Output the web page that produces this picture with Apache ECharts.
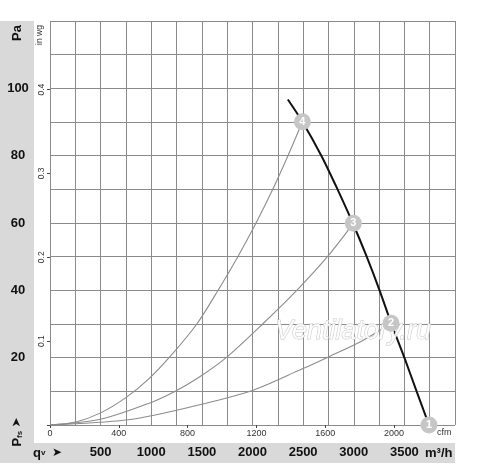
<!DOCTYPE html>
<html>
<head>
<meta charset="utf-8">
<script src="https://cdn.jsdelivr.net/npm/echarts@6/dist/echarts.min.js"></script>
<style>html,body{margin:0;padding:0;background:#fff}#c{width:500px;height:465px}</style>
</head>
<body>
<div id="c"></div>
<script>
// Axis definitions
const flowMin = 0, flowMax = 4000, flowStep = 250;          // m³/h
const flowLabels = [500, 1000, 1500, 2000, 2500, 3000, 3500];
const cfmMax = 2354.3, cfmStep = 400;                      // cfm
const paMin = 0, paMax = 120, paStep = 10;                 // Pa
const paLabels = [20, 40, 60, 80, 100];
const inwgMax = 0.48176, inwgStep = 0.1;                   // in wg

// Fan characteristic (m³/h, Pa)
const fanCurve = [[2349,96.7],[2493,90.1],[2680,80],[2840,70],[2990,60],[3128,50],[3255,40],[3370,30.2],[3500,20],[3621,10],[3743,0]];
// System curves (m³/h, Pa)
const system4 = [[0,0],[255,0.9],[500,3.6],[753,8.2],[973,13.6],[1200,20.8],[1450,30],[1660,40],[1855,50],[2035,60],[2200,70],[2350,80],[2493,90.1]];
const system3 = [[0,0],[500,1.7],[1000,6.7],[1237,10],[1483,14.4],[1740,20],[2100,30],[2437,40],[2740,50],[2996,59.9]];
const system2 = [[0,0],[750,1.5],[1253,4.4],[1977,10],[2487,16.6],[2734,20],[3095,25.2],[3368,30.2]];
// Operating points
const opPoints = [[3743,0,'1'],[3368,30.2,'2'],[2996,59.9,'3'],[2493,90.1,'4']];

const FONT = 'Arial, "Liberation Sans", sans-serif';
const chart = echarts.init(document.getElementById('c'));
chart.setOption({
  animation: false,
  backgroundColor: '#fff',
  textStyle: { fontFamily: FONT },
  grid: { left: 50, top: 21, width: 405, height: 404 },
  xAxis: [
    { type: 'value', min: flowMin, max: flowMax, interval: flowStep, position: 'bottom',
      axisLine: { show: false }, axisTick: { show: false },
      splitLine: { show: true, lineStyle: { color: '#8a8a8a', width: 1 } },
      axisLabel: { margin: 21, fontSize: 13, fontWeight: 'bold', color: '#111',
        formatter: v => flowLabels.includes(v) ? String(v) : '' } },
    { type: 'value', min: 0, max: cfmMax, interval: cfmStep, position: 'bottom',
      axisLine: { show: false }, splitLine: { show: false },
      axisTick: { show: true, length: 3, inside: false, lineStyle: { color: '#444' } },
      axisLabel: { margin: 4, fontSize: 9, color: '#333', showMaxLabel: false,
        formatter: v => (v % 400 === 0 && v <= 2000) ? String(v) : '' } }
  ],
  yAxis: [
    { type: 'value', min: paMin, max: paMax, interval: paStep, position: 'left',
      axisLine: { show: false }, axisTick: { show: false },
      splitLine: { show: true, lineStyle: { color: '#8a8a8a', width: 1 } },
      axisLabel: { margin: 32, align: 'center', fontSize: 13, fontWeight: 'bold', color: '#111',
        formatter: v => paLabels.includes(v) ? String(v) : '' } },
    { type: 'value', min: 0, max: inwgMax, interval: inwgStep, position: 'left',
      axisLine: { show: false }, splitLine: { show: false },
      axisTick: { show: true, length: 3, lineStyle: { color: '#444' } },
      axisLabel: { margin: 8, rotate: 90, align: 'center', verticalAlign: 'middle', fontSize: 8.5, color: '#333',
        showMaxLabel: false,
        formatter: v => (v > 0.05 && v < 0.45) ? v.toFixed(1) : '' } }
  ],
  graphic: [
    { type: 'rect', z: -10, shape: { x: 0, y: 21, width: 34, height: 442 }, style: { fill: '#d9d9d9' } },
    { type: 'rect', z: -10, shape: { x: 0, y: 443, width: 455, height: 20 }, style: { fill: '#d9d9d9' } },
    { type: 'text', x: 17, y: 33, rotation: Math.PI / 2,
      style: { text: 'Pa', font: 'bold 13px ' + FONT, fill: '#111', align: 'center', verticalAlign: 'middle' } },
    { type: 'text', x: 40, y: 35, rotation: Math.PI / 2,
      style: { text: 'in wg', font: '8.5px ' + FONT, fill: '#333', align: 'center', verticalAlign: 'middle' } },
    { type: 'text', x: 17, y: 432, rotation: Math.PI / 2,
      style: { text: '{p|P}{s|fs} {a|➤}', align: 'center', verticalAlign: 'middle',
        rich: { p: { fontSize: 13, fontWeight: 'bold', fontFamily: FONT, fill: '#111' },
                s: { fontSize: 8, fontWeight: 'bold', fontFamily: FONT, fill: '#111', verticalAlign: 'bottom' },
                a: { fontSize: 12, fontFamily: 'DejaVu Sans', fill: '#111' } } } },
    { type: 'text', x: 33, y: 453,
      style: { text: '{p|q}{s|v}  {a|➤}', align: 'left', verticalAlign: 'middle',
        rich: { p: { fontSize: 13, fontWeight: 'bold', fontFamily: FONT, fill: '#111' },
                s: { fontSize: 8, fontWeight: 'bold', fontFamily: FONT, fill: '#111' },
                a: { fontSize: 12, fontFamily: 'DejaVu Sans', fill: '#111' } } } },
    { type: 'text', x: 425, y: 453,
      style: { text: 'm³/h', font: 'bold 13px ' + FONT, fill: '#111', align: 'left', verticalAlign: 'middle' } },
    { type: 'text', x: 437, y: 433,
      style: { text: 'cfm', font: '9px ' + FONT, fill: '#333', align: 'left', verticalAlign: 'middle' } },
    { type: 'text', x: 275, y: 331, z: 5,
      style: { text: 'Ventilatory.ru', font: 'italic 27px ' + FONT, fill: 'rgba(255,255,255,0.85)',
        stroke: '#c8c8c8', lineWidth: 1, align: 'left', verticalAlign: 'middle' } }
  ],
  series: [
    { type: 'line', data: system4, smooth: 0.3, symbol: 'none', z: 3, lineStyle: { color: '#8c8c8c', width: 1.1 } },
    { type: 'line', data: system3, smooth: 0.3, symbol: 'none', z: 3, lineStyle: { color: '#8c8c8c', width: 1.1 } },
    { type: 'line', data: system2, smooth: 0.3, symbol: 'none', z: 3, lineStyle: { color: '#8c8c8c', width: 1.1 } },
    { type: 'line', data: fanCurve, smooth: 0.3, symbol: 'none', z: 4, lineStyle: { color: '#111', width: 2 } },
    { type: 'scatter', data: opPoints, symbol: 'circle', symbolSize: 17, z: 10,
      itemStyle: { color: '#c6c6c6', opacity: 1 },
      label: { show: true, position: 'inside', formatter: p => p.data[2],
        color: '#fff', fontWeight: 'bold', fontSize: 11 } }
  ]
});
</script>
</body>
</html>
